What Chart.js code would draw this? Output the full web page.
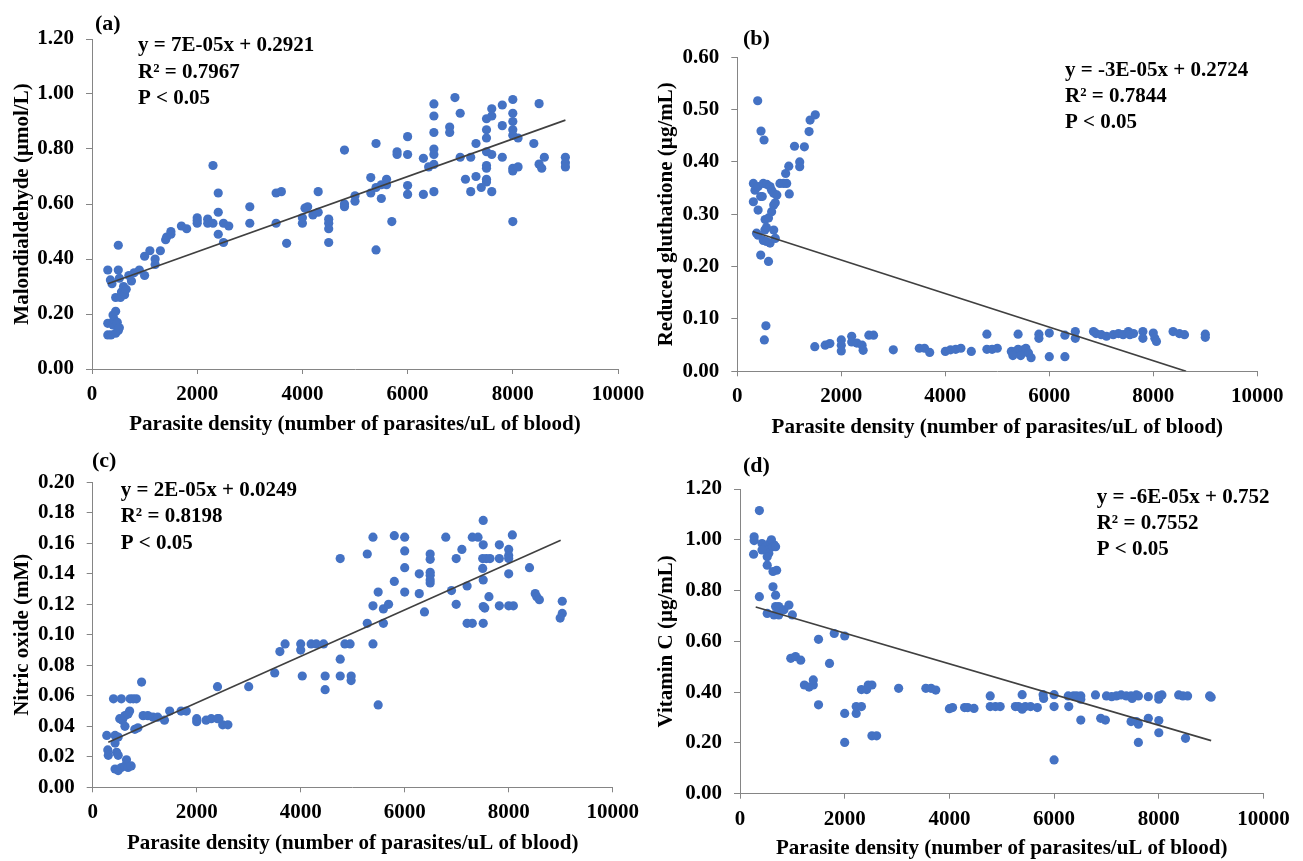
<!DOCTYPE html>
<html><head><meta charset="utf-8">
<script src="https://cdn.jsdelivr.net/npm/chart.js@4.4.0/dist/chart.umd.min.js"></script>
<style>html,body{margin:0;padding:0;background:#fff;width:1303px;height:861px;overflow:hidden;} canvas{position:absolute;left:0;top:0;}</style>
</head><body>
<canvas id="ca" width="1303" height="861"></canvas>
<canvas id="cb" width="1303" height="861"></canvas>
<canvas id="cc" width="1303" height="861"></canvas>
<canvas id="cd" width="1303" height="861"></canvas>
<script>
// ---------- DATA ----------
const xTickValues = [0, 2000, 4000, 6000, 8000, 10000];
const xAxisTitle = "Parasite density (number of parasites/uL of blood)";

// (a) Malondialdehyde
const aX = [300,300,300,360,400,350,380,500,400,450,450,500,500,520,560,600,450,540,620,700,650,750,800,900,420,480,520,
  1000,1000,1100,1200,1200,1300,1400,1420,1500,1500,1700,1800,2000,2000,2000,2200,2200,2300,2400,2400,2400,2300,2500,2500,2600,
  3000,3000,3500,3600,3500,3700,4000,4000,4050,4100,4200,4300,4300,4500,4500,4500,4500,4800,4800,4800,5000,5000,
  5300,5300,5400,5400,5400,5500,5500,5600,5600,5700,5800,5800,6000,6000,6000,6000,6300,6300,6400,
  6500,6500,6500,6500,6500,6500,6500,6800,6800,6900,7000,7000,7100,7200,7200,7300,7300,7400,
  7500,7500,7500,7500,7500,7500,7500,7500,7600,7600,7600,7600,7800,7800,7800,
  8000,8000,8000,8000,8000,8000,8000,8000,8100,8100,8400,8500,8500,8550,8600,9000,9000,9000];
const aY = [0.36,0.166,0.124,0.124,0.16,0.324,0.31,0.45,0.196,0.21,0.13,0.14,0.36,0.33,0.28,0.30,0.26,0.26,0.27,0.34,0.29,0.32,0.35,0.36,0.18,0.17,0.15,
  0.34,0.41,0.43,0.40,0.38,0.43,0.47,0.48,0.50,0.49,0.52,0.51,0.53,0.55,0.54,0.545,0.53,0.74,0.64,0.57,0.49,0.53,0.53,0.46,0.52,
  0.59,0.53,0.64,0.645,0.53,0.457,0.55,0.53,0.585,0.59,0.56,0.645,0.57,0.545,0.53,0.51,0.46,0.796,0.59,0.60,0.63,0.61,
  0.696,0.64,0.82,0.66,0.433,0.67,0.62,0.69,0.67,0.536,0.79,0.78,0.845,0.78,0.667,0.635,0.766,0.635,0.735,
  0.964,0.92,0.86,0.80,0.78,0.744,0.645,0.88,0.86,0.987,0.93,0.77,0.69,0.77,0.645,0.82,0.70,0.66,
  0.91,0.87,0.84,0.79,0.74,0.73,0.69,0.68,0.946,0.92,0.78,0.645,0.96,0.885,0.77,
  0.98,0.93,0.90,0.87,0.85,0.73,0.72,0.536,0.84,0.735,0.82,0.965,0.745,0.73,0.77,0.77,0.75,0.735];
const aTrendX = [300, 9000];
const aTrendY = [0.31, 0.905];

// (b) Reduced gluthatione
const bX = [392,456,514,309,340,400,309,400,450,480,500,570,630,535,600,560,530,370,400,500,560,630,450,600,700,730,660,700,730,660,700,760,820,890,950,930,990,1000,1100,1200,1200,1290,1380,1400,1500,
  550,520,1490,1690,1780,2000,2000,2000,2200,2200,2300,2400,2420,2530,2620,3000,3500,3600,3700,4000,4100,4200,4300,
  4500,4800,4800,4900,5000,5270,5350,5400,5450,5500,5550,5600,5650,5300,5450,5400,5800,5800,6000,6000,6300,6300,6500,6500,
  6850,6900,7000,7100,7230,7330,7420,7520,7550,7620,7800,7800,8000,8030,8060,8380,8500,8600,9000,9000];
const bY = [0.517,0.459,0.442,0.359,0.346,0.353,0.324,0.308,0.334,0.334,0.359,0.357,0.353,0.29,0.293,0.275,0.27,0.264,0.26,0.25,0.248,0.245,0.222,0.21,0.27,0.254,0.305,0.318,0.322,0.346,0.34,0.337,0.359,0.359,0.359,0.378,0.392,0.339,0.43,0.40,0.391,0.429,0.458,0.48,0.49,
  0.087,0.06,0.047,0.05,0.053,0.06,0.05,0.039,0.067,0.056,0.054,0.05,0.04,0.069,0.069,0.041,0.044,0.044,0.036,0.038,0.041,0.042,0.044,
  0.038,0.071,0.042,0.042,0.044,0.038,0.038,0.042,0.038,0.041,0.044,0.035,0.026,0.03,0.03,0.071,0.071,0.063,0.073,0.028,0.069,0.028,0.076,0.063,
  0.076,0.072,0.07,0.067,0.07,0.072,0.07,0.076,0.07,0.072,0.076,0.063,0.073,0.063,0.057,0.076,0.072,0.07,0.071,0.065];
const bTrendX = [300, 8630];
const bTrendY = [0.267, 0.0];

// (c) Nitric oxide
const cX = [270,290,300,400,430,490,430,460,490,430,490,550,620,650,680,740,550,520,570,620,680,710,620,720,780,840,810,870,940,970,1060,1160,1250,1380,1480,1700,1800,2000,2000,2180,2280,2400,2430,2400,2500,2600,
  3000,3500,3600,3700,4000,4000,4030,4200,4300,4440,4470,4470,4760,4760,4760,4850,4950,4970,4970,
  5280,5280,5390,5390,5390,5490,5490,5590,5690,5590,5800,5800,6000,6000,6000,6000,6280,6280,6380,6490,6490,6490,6490,6490,6490,
  6790,6900,6990,6990,7100,7200,7200,7300,7300,7410,7510,7510,7500,7570,7640,7500,7510,7510,7540,7510,7620,
  7820,7820,7820,8000,8000,8000,8000,8000,8090,8070,8400,8510,8540,8590,9030,9030,8990];
const cY = [0.034,0.0245,0.021,0.058,0.034,0.033,0.029,0.023,0.021,0.012,0.011,0.013,0.014,0.018,0.013,0.014,0.058,0.045,0.044,0.047,0.048,0.05,0.04,0.058,0.058,0.058,0.038,0.039,0.069,0.047,0.047,0.046,0.046,0.044,0.05,0.05,0.05,0.045,0.043,0.044,0.045,0.045,0.045,0.066,0.041,0.041,
  0.066,0.075,0.089,0.094,0.094,0.09,0.073,0.094,0.094,0.094,0.073,0.064,0.150,0.084,0.073,0.094,0.094,0.073,0.07,
  0.153,0.1075,0.164,0.119,0.094,0.128,0.054,0.117,0.12,0.1075,0.165,0.135,0.164,0.155,0.144,0.128,0.14,0.127,0.115,0.153,0.1495,0.141,0.139,0.136,0.134,
  0.164,0.129,0.150,0.12,0.156,0.132,0.1075,0.1075,0.164,0.164,0.175,0.159,0.150,0.150,0.150,0.1435,0.136,0.1185,0.1175,0.1075,0.125,
  0.159,0.15,0.119,0.156,0.152,0.15,0.14,0.119,0.119,0.1655,0.144,0.127,0.125,0.123,0.122,0.114,0.111];
const cTrendX = [300, 9000];
const cTrendY = [0.0295, 0.162];

// (d) Vitamin C
const dX = [270,270,260,370,370,420,480,580,650,480,550,520,420,520,520,600,630,680,700,630,630,680,680,740,650,740,840,935,1000,970,1060,1160,1230,1320,1400,1400,1500,1500,1710,1800,2000,2000,2000,2220,2220,2320,2320,2420,2520,2450,2520,2610,3030,3550,3650,3740,4060,4000,4290,4350,
  4470,4780,4780,4880,4970,5260,5320,5390,5450,5550,5680,5390,5790,5800,6000,6000,6000,6280,6270,6370,6430,6510,6510,6510,
  6790,6890,6980,7000,7100,7190,7280,7380,7470,7570,7610,7490,7470,7570,7610,7610,7800,7800,8000,8000,8060,8000,8000,8380,8460,8550,8510,8970,9000];
const dY = [1.012,0.997,0.943,1.115,0.776,0.985,0.97,0.99,0.98,0.96,0.947,0.933,0.96,0.90,0.71,1.0,0.973,0.973,0.88,0.875,0.815,0.782,0.737,0.737,0.704,0.704,0.724,0.743,0.704,0.533,0.54,0.526,0.428,0.42,0.428,0.448,0.608,0.35,0.513,0.631,0.621,0.316,0.202,0.316,0.343,0.343,0.41,0.41,0.428,0.428,0.228,0.228,0.415,0.415,0.415,0.408,0.339,0.335,0.339,0.339,
  0.336,0.385,0.343,0.343,0.343,0.343,0.343,0.333,0.343,0.343,0.339,0.39,0.39,0.375,0.39,0.343,0.133,0.343,0.385,0.385,0.385,0.385,0.372,0.29,
  0.389,0.297,0.29,0.385,0.382,0.385,0.389,0.385,0.385,0.389,0.385,0.375,0.284,0.284,0.274,0.202,0.382,0.297,0.385,0.372,0.389,0.288,0.24,0.389,0.385,0.385,0.218,0.385,0.38];
const dTrendX = [300, 9000];
const dTrendY = [0.735, 0.209];

// ---------- RENDER ----------
const FAMILY = '"Liberation Serif", "Times New Roman", serif';
const FS = 21;
const LH = FS * 1.2;
const AXIS_COLOR = '#858585';
const POINT_COLOR = '#4472C4';

function pts(xs, ys) { return xs.map((x, i) => ({x: x, y: ys[i]})); }

const textPlugin = {
  id: 'panelText',
  afterDraw(chart) {
    const t = chart.options.plugins.panelText;
    const ctx = chart.ctx;
    ctx.save();
    ctx.fillStyle = '#000';
    ctx.textAlign = 'left';
    ctx.textBaseline = 'middle';
    ctx.font = 'bold 22px ' + FAMILY;
    ctx.fillText(t.label, t.labelX, t.labelY);
    ctx.font = 'bold ' + FS + 'px ' + FAMILY;
    t.lines.forEach((s, i) => ctx.fillText(s, t.x, t.ys[i]));
    ctx.restore();
  }
};

function makeChart(id, p) {
  const font = {family: FAMILY, size: FS, weight: 'bold'};
  const padLeft = p.yTitleX - LH / 2;
  const padBottom = 861 - p.xTitleY - LH / 2;
  new Chart(document.getElementById(id), {
    type: 'scatter',
    data: {datasets: [
      {type: 'line', data: pts(p.tx, p.ty), borderColor: '#404040', borderWidth: 1.6, pointRadius: 0, fill: false, order: 0},
      {data: pts(p.xs, p.ys), backgroundColor: POINT_COLOR, borderWidth: 0, pointRadius: 4.6, order: 1}
    ]},
    options: {
      responsive: false, animation: false, events: [],
      layout: {padding: {left: padLeft, top: p.top, right: 1303 - p.right, bottom: padBottom}},
      plugins: {legend: {display: false}, tooltip: {enabled: false}, panelText: p.text},
      scales: {
        x: {
          type: 'linear', min: 0, max: 10000,
          afterBuildTicks: s => { s.ticks = xTickValues.map(v => ({value: v})); },
          ticks: {color: '#000', font: font, padding: 8, maxRotation: 0, autoSkip: false, callback: v => String(v)},
          grid: {drawOnChartArea: false, drawTicks: true, tickLength: 5, color: AXIS_COLOR},
          border: {display: true, color: AXIS_COLOR},
          title: {display: true, text: xAxisTitle, color: '#000', font: font, padding: 0},
          afterFit: s => { s.height = p.xTitleY + LH / 2 - p.bottom; }
        },
        y: {
          type: 'linear', min: 0, max: p.yMax,
          afterBuildTicks: s => { s.ticks = p.yTicks.map(v => ({value: v})); },
          ticks: {color: '#000', font: font, padding: 12, autoSkip: false, callback: v => Number(v).toFixed(2)},
          grid: {drawOnChartArea: false, drawTicks: true, tickLength: 6, color: AXIS_COLOR},
          border: {display: true, color: AXIS_COLOR},
          title: {display: true, text: p.yTitle, color: '#000', font: font, padding: 0},
          afterFit: s => { s.width = p.left - padLeft; }
        }
      }
    },
    plugins: [textPlugin]
  });
}

const yTicksA = [0, 0.2, 0.4, 0.6, 0.8, 1.0, 1.2];
const yTicksB = [0, 0.1, 0.2, 0.3, 0.4, 0.5, 0.6];
const yTicksC = [0, 0.02, 0.04, 0.06, 0.08, 0.10, 0.12, 0.14, 0.16, 0.18, 0.20];
const yTicksD = [0, 0.2, 0.4, 0.6, 0.8, 1.0, 1.2];

makeChart('ca', {xs: aX, ys: aY, tx: aTrendX, ty: aTrendY, yMax: 1.2, yTicks: yTicksA,
  yTitle: 'Malondialdehyde (µmol/L)', left: 92, right: 618, top: 39, bottom: 369, yTitleX: 22.5, xTitleY: 425,
  text: {label: '(a)', labelX: 95, labelY: 24, x: 138, ys: [45.5, 72.5, 99],
    lines: ['y = 7E-05x + 0.2921', 'R² = 0.7967', 'P < 0.05']}});
makeChart('cb', {xs: bX, ys: bY, tx: bTrendX, ty: bTrendY, yMax: 0.6, yTicks: yTicksB,
  yTitle: 'Reduced gluthatione (µg/mL)', left: 737.3, right: 1257.3, top: 57.3, bottom: 371.3, yTitleX: 666.7, xTitleY: 427.5,
  text: {label: '(b)', labelX: 743, labelY: 39, x: 1065, ys: [70.8, 96.7, 122.5],
    lines: ['y = -3E-05x + 0.2724', 'R² = 0.7844', 'P < 0.05']}});
makeChart('cc', {xs: cX, ys: cY, tx: cTrendX, ty: cTrendY, yMax: 0.2, yTicks: yTicksC,
  yTitle: 'Nitric oxide (mM)', left: 92.7, right: 612.7, top: 482.3, bottom: 787.3, yTitleX: 22.5, xTitleY: 843.3,
  text: {label: '(c)', labelX: 92, labelY: 461, x: 120.7, ys: [490.8, 516.7, 543.3],
    lines: ['y = 2E-05x + 0.0249', 'R² = 0.8198', 'P < 0.05']}});
makeChart('cd', {xs: dX, ys: dY, tx: dTrendX, ty: dTrendY, yMax: 1.2, yTicks: yTicksD,
  yTitle: 'Vitamin C (µg/mL)', left: 740, right: 1263.5, top: 489, bottom: 793.7, yTitleX: 666.7, xTitleY: 848.3,
  text: {label: '(d)', labelX: 743, labelY: 466.7, x: 1096.7, ys: [497.5, 523.3, 550],
    lines: ['y = -6E-05x + 0.752', 'R² = 0.7552', 'P < 0.05']}});
</script>
</body></html>
